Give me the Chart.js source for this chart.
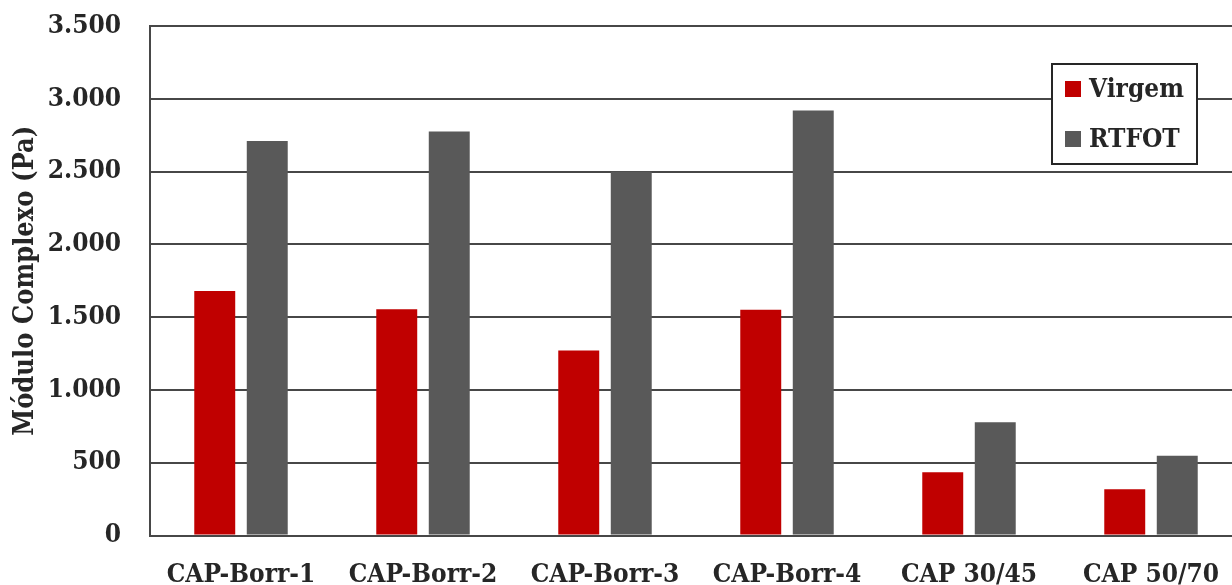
<!DOCTYPE html>
<html lang="pt-BR">
<head>
<meta charset="utf-8">
<title>Módulo Complexo</title>
<script src="https://cdn.jsdelivr.net/npm/chart.js@4.4.1/dist/chart.umd.min.js"></script>
<style>
  html, body { margin: 0; padding: 0; background: #ffffff; overflow: hidden; }
  #wrap { width: 1232px; height: 585px; overflow: hidden; }
</style>
</head>
<body>
<div id="wrap">
  <canvas id="chart" width="1250" height="585"></canvas>
</div>
<script>
// Amostras de ligante
const categorias = ['CAP-Borr-1', 'CAP-Borr-2', 'CAP-Borr-3', 'CAP-Borr-4', 'CAP 30/45', 'CAP 50/70'];

// Módulo complexo (Pa)
const virgem = [1680, 1555, 1270, 1550, 435, 318];
const rtfot = [2710, 2775, 2500, 2920, 778, 547];

const yTicks = [0, 500, 1000, 1500, 2000, 2500, 3000, 3500];

const FONT = "'DejaVu Serif Condensed', 'DejaVu Serif', serif";
const TEXT = '#262626';

// 3500 -> "3.500"
function formatNum(v) {
  return String(v).replace(/\B(?=(\d{3})+(?!\d))/g, '.');
}

// Legenda desenhada dentro da área do gráfico, com moldura
const boxLegend = {
  id: 'boxLegend',
  afterDraw(chart) {
    const ctx = chart.ctx;
    const x = 1052, y = 64, w = 145, h = 100;
    ctx.save();
    ctx.fillStyle = '#ffffff';
    ctx.fillRect(x, y, w, h);
    ctx.strokeStyle = '#262626';
    ctx.lineWidth = 2;
    ctx.strokeRect(x, y, w, h);
    ctx.font = 'bold 26px ' + FONT;
    ctx.textBaseline = 'middle';
    chart.data.datasets.forEach((ds, i) => {
      const cy = y + 25 + i * 50;
      ctx.fillStyle = ds.backgroundColor;
      ctx.fillRect(x + 13, cy - 8, 16, 16);
      ctx.fillStyle = TEXT;
      ctx.fillText(ds.label, x + 37, cy + 1);
    });
    ctx.restore();
  }
};

const ctx = document.getElementById('chart').getContext('2d');
new Chart(ctx, {
  type: 'bar',
  data: {
    labels: categorias,
    datasets: [
      { label: 'Virgem', data: virgem, backgroundColor: '#C00000' },
      { label: 'RTFOT', data: rtfot, backgroundColor: '#595959' }
    ]
  },
  options: {
    responsive: false,
    animation: false,
    layout: { padding: { top: 26, right: 8, bottom: 0, left: 0 } },
    datasets: {
      bar: { categoryPercentage: 0.577, barPercentage: 0.78 }
    },
    plugins: {
      legend: { display: false },
      tooltip: { enabled: false }
    },
    scales: {
      x: {
        grid: { display: false, drawTicks: false },
        border: { display: false },
        ticks: {
          color: TEXT,
          padding: 24,
          maxRotation: 0,
          autoSkip: false,
          font: { family: FONT, size: 26, weight: 'bold' }
        },
        afterFit(scale) { scale.height = 49.5; }
      },
      y: {
        min: 0,
        max: 3500,
        afterBuildTicks(scale) { scale.ticks = yTicks.map(v => ({ value: v })); },
        grid: { color: '#474747', lineWidth: 2, drawTicks: false },
        border: { color: '#474747', width: 2 },
        ticks: {
          color: TEXT,
          padding: 29,
          font: { family: FONT, size: 26, weight: 'bold' },
          callback: v => formatNum(v)
        },
        title: {
          display: true,
          text: 'Módulo Complexo (Pa)',
          color: TEXT,
          padding: { top: 10, bottom: 0 },
          font: { family: FONT, size: 27, weight: 'bold' }
        },
        afterFit(scale) {
          scale.width = 150;
          // o topo da área útil fica só no padding do layout
          scale.paddingTop = 0;
          scale.paddingBottom = 0;
        }
      }
    }
  },
  plugins: [boxLegend]
});
</script>
</body>
</html>
